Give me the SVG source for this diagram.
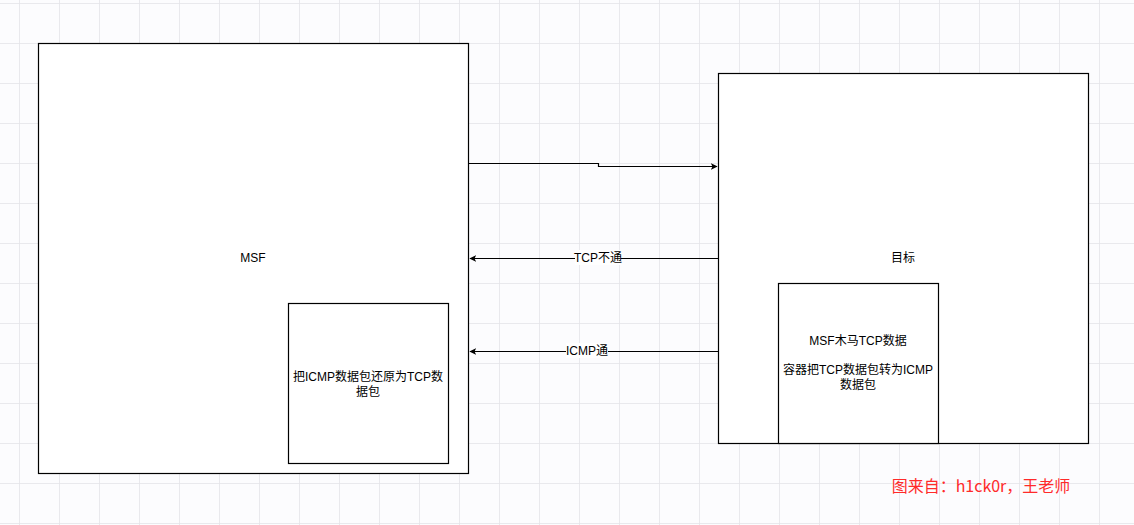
<svg xmlns="http://www.w3.org/2000/svg" width="1134" height="525" viewBox="0 0 1134 525">
<defs>
<pattern id="grid" x="19" y="3" width="40" height="40" patternUnits="userSpaceOnUse">
<path d="M0 0H40M0 0V40" fill="none" stroke="#e4e4e8" stroke-width="1.5"/>
</pattern>
<marker id="arr" viewBox="0 0 10 10" refX="9" refY="5" markerWidth="7" markerHeight="7" markerUnits="userSpaceOnUse" orient="auto">
<path d="M0 0L10 5L0 10L2.5 5Z" fill="#000"/>
</marker>
</defs>
<style>
.box{fill:#fff;stroke:#000;stroke-width:1.2}
.t{font-family:"Liberation Sans","Noto Sans CJK SC",sans-serif;font-size:12px;fill:#000;text-anchor:middle}
.c{fill:none;stroke:#000;stroke-width:1.2}
.lbl{fill:#fff}
</style>
<rect width="1134" height="525" fill="#fcfcfe"/>
<rect width="1134" height="525" fill="url(#grid)"/>
<g id="msf">
<rect class="box" x="38.5" y="43.5" width="430" height="430"/>
<text class="t" x="253" y="262">MSF</text>
</g>
<g id="restore">
<rect class="box" x="288.5" y="303.5" width="160" height="160"/>
<text class="t" x="368" y="381">把ICMP数据包还原为TCP数</text>
<text class="t" x="368" y="396">据包</text>
</g>
<g id="target">
<rect class="box" x="718.5" y="73.5" width="370" height="370"/>
<text class="t" x="903" y="262">目标</text>
</g>
<g id="container">
<rect class="box" x="778.5" y="283.5" width="160" height="160"/>
<text class="t" x="858" y="345">MSF木马TCP数据</text>
<text class="t" x="858" y="374">容器把TCP数据包转为ICMP</text>
<text class="t" x="858" y="389">数据包</text>
</g>
<g id="connectors">
<path class="c" d="M468.5 163.5H598.5V166.5H717" marker-end="url(#arr)"/>
<path class="c" d="M718.5 258.5H470" marker-end="url(#arr)"/>
<rect class="lbl" x="575" y="250" width="46" height="15"/>
<text class="t" x="598" y="262">TCP不通</text>
<path class="c" d="M718.5 351.5H470" marker-end="url(#arr)"/>
<rect class="lbl" x="566" y="343" width="42" height="15"/>
<text class="t" x="587" y="355">ICMP通</text>
</g>
<text x="981" y="492" font-family="'Noto Sans CJK SC',sans-serif" font-size="16" fill="#ff2a2a" text-anchor="middle">图来自：h1ck0r，王老师</text>
</svg>
